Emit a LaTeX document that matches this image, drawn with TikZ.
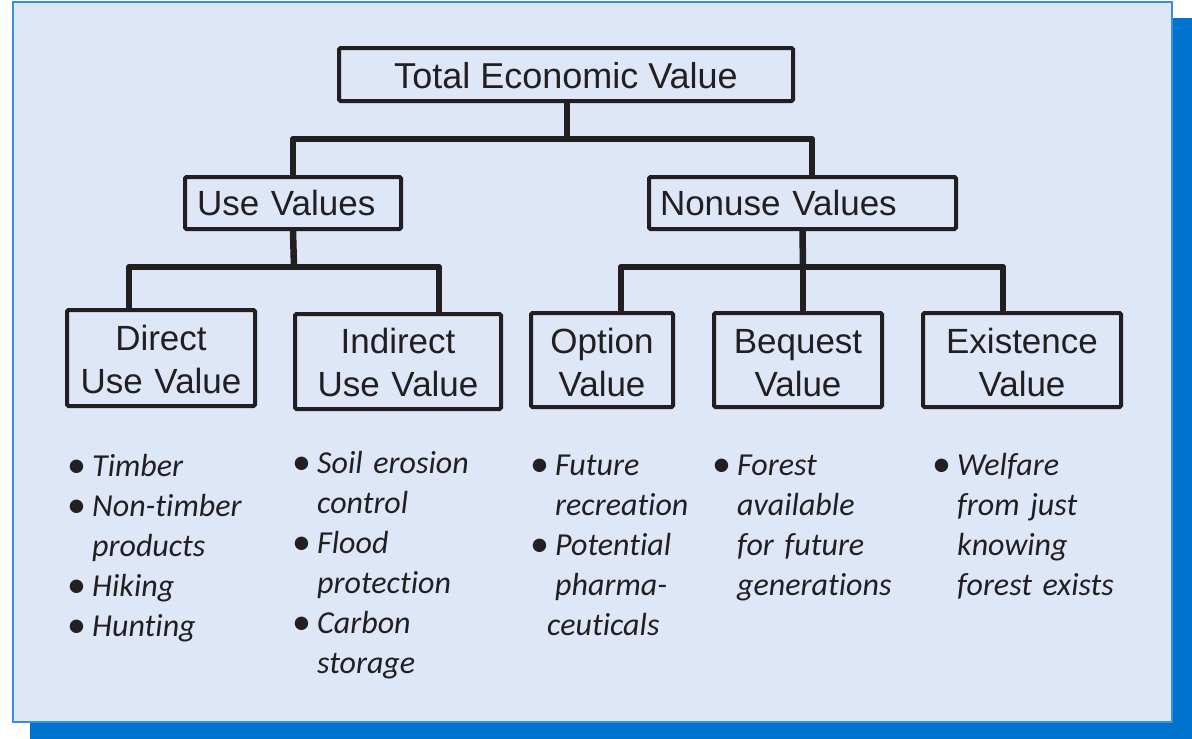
\documentclass[tikz,border=0pt]{standalone}
\usepackage{fontspec}
\setmainfont{Liberation Sans}
\newfontfamily\listfont[Ligatures={NoCommon,NoDiscretionary}]{Carlito}
\definecolor{ink}{HTML}{231F20}
\definecolor{panelbg}{HTML}{DDE7F8}
\definecolor{panelline}{HTML}{3A8EE0}
\definecolor{shadowblue}{HTML}{0073CF}
\tikzset{
  box/.style={draw=ink, text=ink, line width=4pt, inner sep=0pt, rounded corners=1.5pt,
    font=\fontsize{35}{43}\selectfont},
  onebox/.style={box, text height=#1, text depth=0pt},
  twobox/.style={box, align=center, text height=26pt},
  conn/.style={draw=ink, line width=6.5pt, line join=round},
  listtext/.style={text=ink, inner sep=0pt, anchor=base west, align=left, text width=220pt,
    font=\listfont\itshape\fontsize{32}{40}\selectfont},
}
\newcommand{\bul}{\leavevmode\llap{\makebox[25pt][l]{\upshape\fontsize{38}{40}\selectfont\raisebox{-1pt}{•}}}}
\begin{document}
\begin{tikzpicture}[x=1pt,y=-1pt]
\useasboundingbox (0,0) rectangle (1192,739);
% panel and shadow
\fill[shadowblue] (30,18) rectangle (1192,739);
\draw[panelline, line width=1.5pt, fill=panelbg] (13,2) rectangle (1172,722);

% top level
\node[onebox=27pt, minimum width=454pt, minimum height=53pt, font=\fontsize{36}{43}\selectfont] (tev) at (566,74.5) {Total Economic Value};
% second level
\node[onebox=24pt, minimum height=52pt, text width=192pt, inner xsep=12pt, align=left] (use) at (293,203) {Use Values};
\node[onebox=24pt, minimum height=52pt, text width=285pt, inner xsep=11pt, align=left] (nonuse) at (802.5,203) {Nonuse Values};
% third level
\node[twobox, text width=188pt, minimum height=96pt, text depth=42pt] (direct) at (161,358) {Direct\\Use Value};
\node[twobox, text width=206pt, minimum height=95pt, text depth=43pt] (indirect) at (398,361.5) {Indirect\\Use Value};
\node[twobox, text width=142pt, minimum height=94pt, text depth=40pt] (option) at (602,360) {Option\\Value};
\node[twobox, text width=168pt, minimum height=94pt, text depth=40pt] (bequest) at (798,360) {Bequest\\Value};
\node[twobox, text width=198pt, minimum height=94pt, text depth=40pt] (existence) at (1022,360) {Existence\\Value};

% connectors
\coordinate (j0) at (567,139);
\coordinate (j1) at (294,267);
\coordinate (j2) at (803,267);
\draw[conn] (tev.south -| j0) -- (j0);
\draw[conn] (use.north) |- (j0) -| ([xshift=9.5pt]nonuse.north);
\draw[conn] (use.south) -- (j1);
\draw[conn] ([xshift=-32pt]direct.north) |- (j1) -| ([xshift=41pt]indirect.north);
\draw[conn] (nonuse.south) -- (j2);
\draw[conn] ([xshift=19pt]option.north) |- (j2) -| ([xshift=-19pt]existence.north);
\draw[conn] (j2) -- (j2 |- bequest.north);

% lists
\node[listtext] (l1) at (92,476) {\bul Timber\\ \bul Non-timber\\ products\\ \bul Hiking\\ \bul Hunting};
\node[listtext] (l2) at (317,473) {\bul Soil erosion\\ control\\ \bul Flood\\ protection\\ \bul Carbon\\ storage};
\node[listtext] (l3) at (555,475) {\bul Future\\ recreation\\ \bul Potential\\ pharma-\\ \hspace*{-8pt}ceuticals};
\node[listtext] (l4) at (737,475) {\bul Forest\\ available\\ for future\\ generations};
\node[listtext] (l5) at (957,475) {\bul Welfare\\ from just\\ knowing\\ forest exists};
\end{tikzpicture}
\end{document}
